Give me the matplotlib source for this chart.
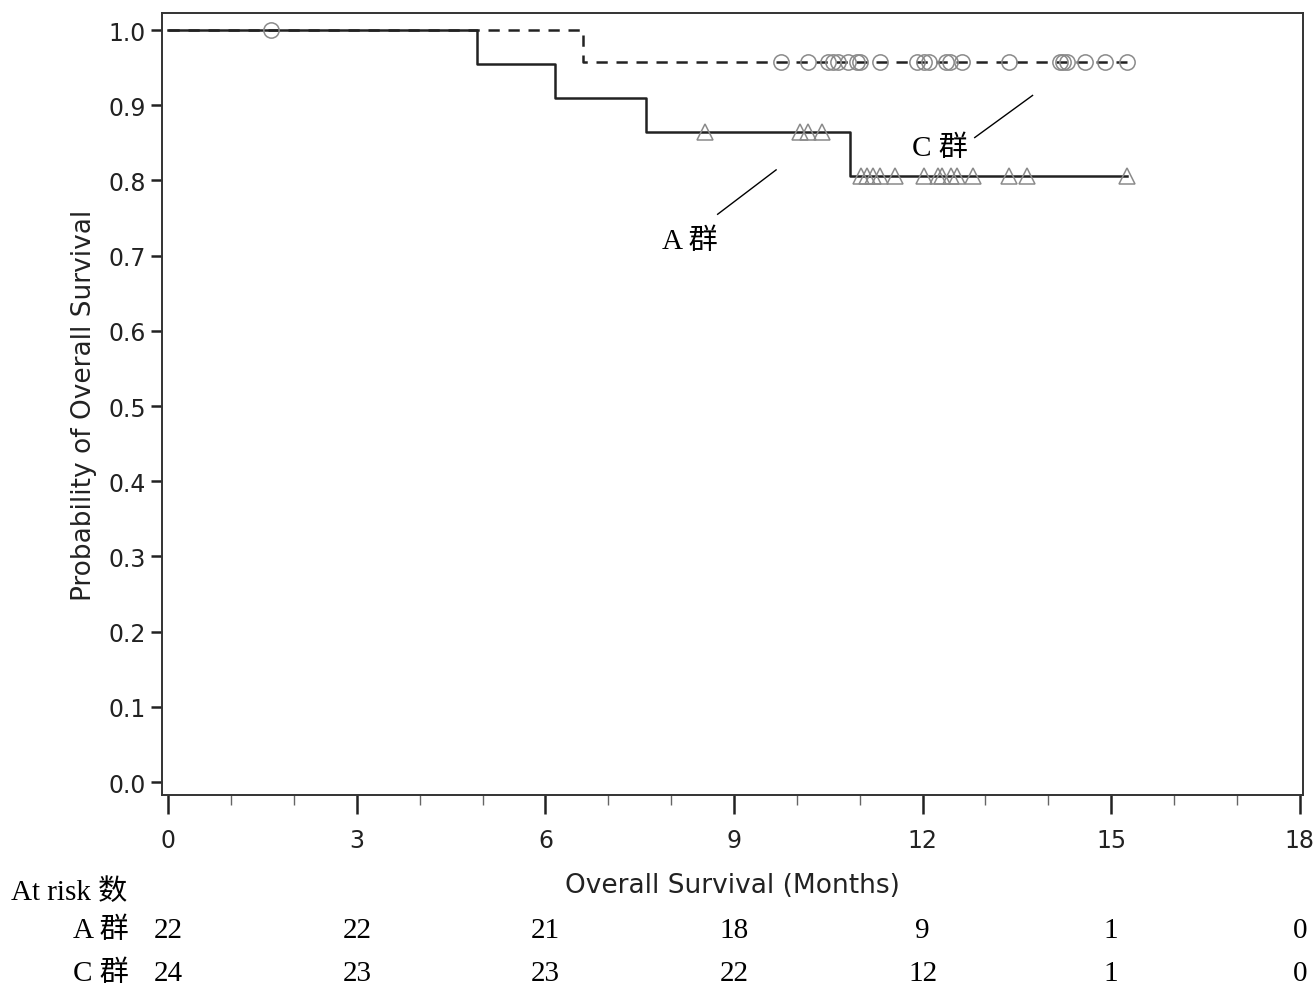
import matplotlib.pyplot as plt
import matplotlib.transforms as mtransforms
import numpy as np

# Kaplan-Meier curves
a_step_times = [0, 4.91, 6.15, 7.60, 10.85]
a_surv = [1.0, 0.955, 0.909, 0.864, 0.806]
a_censor = [8.54, 10.05, 10.18, 10.40, 11.02, 11.11, 11.21, 11.32, 11.56,
            12.02, 12.24, 12.31, 12.46, 12.54, 12.80, 13.37, 13.66, 15.26]

c_step_times = [0, 6.60]
c_surv = [1.0, 0.957]
c_censor = [1.64, 9.75, 10.17, 10.49, 10.57, 10.65, 10.81, 10.95, 11.00, 11.32, 11.91,
            12.03, 12.10, 12.37, 12.43, 12.62, 13.37, 14.18, 14.24, 14.29, 14.58,
            14.90, 15.26]

# number at risk
risk_times = [0, 3, 6, 9, 12, 15, 18]
risk_a = [22, 22, 21, 18, 9, 1, 0]
risk_c = [24, 23, 23, 22, 12, 1, 0]

serif_cjk = ['Liberation Serif', 'Noto Sans CJK SC']


def surv_at(t, times, surv):
    idx = np.searchsorted(times, t, side='right') - 1
    return np.array(surv)[idx]


fig = plt.figure(figsize=(13.16, 9.87), dpi=100)
ax = fig.add_axes([0.1231, 0.1935, 0.8669, 0.7923])

# step curves, extended to the last observation
a_end = max(a_censor)
c_end = max(c_censor)
ax.step(a_step_times + [a_end], a_surv + [a_surv[-1]], where='post',
        color='#222222', lw=1.8, zorder=3)
ax.step(c_step_times + [c_end], c_surv + [c_surv[-1]], where='post',
        color='#222222', lw=1.8, ls=(0, (4.5, 3.5)), zorder=3)

ax.plot(a_censor, surv_at(a_censor, a_step_times, a_surv), ls='none', marker='^',
        ms=11, mfc='none', mec='#8a8a8a', mew=1.1, zorder=4)
ax.plot(c_censor, surv_at(c_censor, c_step_times, c_surv), ls='none', marker='o',
        ms=11, mfc='none', mec='#8a8a8a', mew=1.1, zorder=4)

ax.set_xlim(-0.1, 18.05)
ax.set_ylim(-0.0173, 1.0226)
ax.set_xticks(risk_times)
ax.set_xticks(np.arange(0, 19, 1), minor=True)
ax.set_yticks(np.arange(0, 1.01, 0.1))
ax.set_yticklabels([f'{v:.1f}' for v in np.arange(0, 1.01, 0.1)])
ax.tick_params(axis='x', which='major', length=14, width=1.8, pad=10,
               labelsize=17, colors='#222222')
ax.tick_params(axis='x', which='minor', length=7, width=1.0, color='#666666')
ax.tick_params(axis='y', which='major', length=8, width=1.8, labelsize=17,
               colors='#222222')
for s in ax.spines.values():
    s.set_color('#333333')
    s.set_linewidth(1.4)

ax.set_xlabel('Overall Survival (Months)', fontsize=19, labelpad=14, color='#222222')
ax.set_ylabel('Probability of Overall Survival', fontsize=19, labelpad=8,
              color='#222222')

# group labels with leader lines
ax.text(12.27, 0.843, 'C 群', family=serif_cjk, fontsize=21, ha='center', va='center')
ax.plot([12.83, 13.75], [0.857, 0.913], color='black', lw=1.0)
ax.text(8.3, 0.72, 'A 群', family=serif_cjk, fontsize=21, ha='center', va='center')
ax.plot([8.74, 9.67], [0.755, 0.814], color='black', lw=1.0)

# at-risk table
tr = mtransforms.blended_transform_factory(ax.transData, fig.transFigure)
fig.text(0.008, 1 - 893 / 987, 'At risk 数', family=serif_cjk, fontsize=21,
         ha='left', va='center')
fig.text(0.098, 1 - 931 / 987, 'A 群', family=serif_cjk, fontsize=21,
         ha='right', va='center')
fig.text(0.098, 1 - 974 / 987, 'C 群', family=serif_cjk, fontsize=21,
         ha='right', va='center')
for t, na, nc in zip(risk_times, risk_a, risk_c):
    ax.text(t, 1 - 931 / 987, str(na), transform=tr, family=serif_cjk, fontsize=21,
            ha='center', va='center', clip_on=False)
    ax.text(t, 1 - 974 / 987, str(nc), transform=tr, family=serif_cjk, fontsize=21,
            ha='center', va='center', clip_on=False)

fig.savefig('out.png', dpi=100)
